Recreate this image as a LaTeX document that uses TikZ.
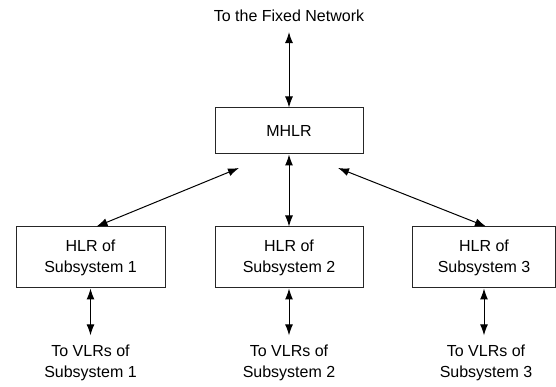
\documentclass[tikz,border=0pt]{standalone}
\usepackage{fontspec}
\setmainfont{Liberation Sans}
\usetikzlibrary{arrows.meta}

\begin{document}
\begin{tikzpicture}[x=1pt,y=1pt,
		box/.style={draw=black!85,line width=1pt,minimum height=46pt,minimum width=148pt,inner sep=0pt,align=center,font=\fontsize{16}{21}\selectfont},
		lbl/.style={align=center,inner sep=0pt,font=\fontsize{16}{21}\selectfont},
		link/.style={line width=1pt,{Latex[length=11pt,width=8pt]}-{Latex[length=11pt,width=8pt]}}]
		\useasboundingbox (0,0) rectangle (556,387);
		
		\node [lbl] (net) at (289,371) {To the Fixed Network};
		\node [box] (mhlr) at (289,256) {MHLR};
		
		\node [box,minimum height=61pt,minimum width=149pt] (h1) at (90.5,129.5) {HLR of\\Subsystem 1};
		\node [box,minimum height=61pt] (h2) at (289,129.5) {HLR of\\Subsystem 2};
		\node [box,minimum height=61pt,minimum width=143pt] (h3) at (484,129.5) {HLR of\\Subsystem 3};
		
		\node [lbl] (v1) at (90.5,24.5) {To VLRs of\\Subsystem 1};
		\node [lbl] (v2) at (289,24.5) {To VLRs of\\Subsystem 2};
		\node [lbl] (v3) at (486,24.5) {To VLRs of\\Subsystem 3};
		
		\coordinate (a1) at (239,219);
		\coordinate (a3) at (338,219);
		
		\draw [link,shorten <=10pt] (net) -- (mhlr);
		\draw [link] (mhlr) -- (h2);
		\draw [link] (a1) -- ([xshift=6pt]h1.north);
		\draw [link] (a3) -- ([xshift=2pt]h3.north);
		
		\draw [link,shorten >=9pt] (h1.south) -- (h1.south |- v1.north);
		\draw [link,shorten >=9pt] (h2.south) -- (h2.south |- v2.north);
		\draw [link,shorten >=9pt] (h3.south) -- (h3.south |- v3.north);
	\end{tikzpicture}
\end{document}
